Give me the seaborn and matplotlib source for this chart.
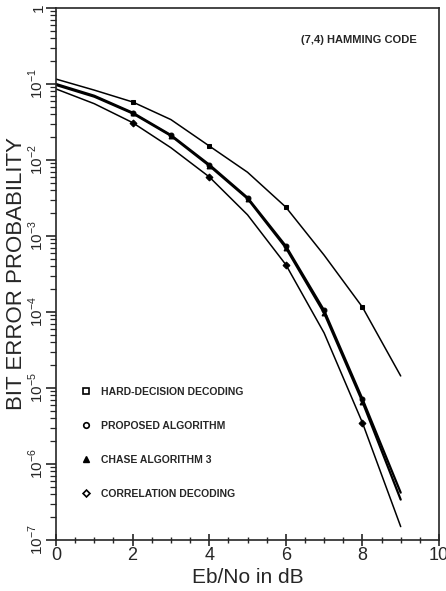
import numpy as np
import pandas as pd
import seaborn as sns
import matplotlib.pyplot as plt
from matplotlib.lines import Line2D
from matplotlib.ticker import LogLocator, MultipleLocator, NullFormatter

ebno = [0, 1, 2, 3, 4, 5, 6, 7, 8, 9]
hard = [0.116, 0.083, 0.058, 0.034, 0.0153, 0.0069, 0.0024, 5.6e-4, 1.16e-4, 1.44e-5]
proposed = [0.100, 0.070, 0.042, 0.0213, 0.0087, 0.0032, 7.4e-4, 1.05e-4, 7.2e-6, 4.2e-7]
chase = [0.097, 0.068, 0.041, 0.0208, 0.0084, 0.0031, 7.0e-4, 9.7e-5, 6.6e-6, 3.4e-7]
corr = [0.086, 0.055, 0.031, 0.0145, 0.0060, 0.0019, 4.2e-4, 5.3e-5, 3.5e-6, 1.5e-7]

names = ['HARD-DECISION DECODING', 'PROPOSED ALGORITHM', 'CHASE ALGORITHM 3', 'CORRELATION DECODING']
ytick_vals = [1e-7, 1e-6, 1e-5, 1e-4, 1e-3, 1e-2, 1e-1, 1]
ytick_text = ['$10^{-7}$', '$10^{-6}$', '$10^{-5}$', '$10^{-4}$', '$10^{-3}$', '$10^{-2}$', '$10^{-1}$', '1']

df = pd.DataFrame({'ebno': ebno, names[0]: hard, names[1]: proposed,
                   names[2]: chase, names[3]: corr})

sns.set_style('ticks')
plt.rcParams['font.family'] = ['Liberation Sans', 'DejaVu Sans']
plt.rcParams['mathtext.fontset'] = 'custom'
plt.rcParams['mathtext.rm'] = 'Liberation Sans'

fig = plt.figure(figsize=(4.46, 5.91), dpi=100)
ax = fig.add_axes([0.1256, 0.0863, 0.8587, 0.9002])

styles = {
    names[0]: dict(lw=1.1, marker='s', every=[2, 4, 6, 8]),
    names[1]: dict(lw=1.6, marker='o', every=[2, 3, 4, 5, 6, 7, 8]),
    names[2]: dict(lw=1.6, marker='^', every=[2, 3, 4, 5, 6, 7, 8]),
    names[3]: dict(lw=1.1, marker='D', every=[2, 4, 6, 8]),
}
for n in names:
    st = styles[n]
    sns.lineplot(data=df, x='ebno', y=n, ax=ax, color='black', lw=st['lw'],
                 marker=st['marker'], markersize=3.5, markevery=st['every'],
                 markeredgecolor='black', markerfacecolor='black')

ax.set_yscale('log')
ax.set_xlim(0, 10)
ax.set_ylim(1e-7, 1)

ax.xaxis.set_major_locator(MultipleLocator(2))
ax.xaxis.set_minor_locator(MultipleLocator(0.5))
ax.tick_params(axis='x', which='major', direction='inout', length=8, width=1.2, labelsize=13, pad=1)
ax.tick_params(axis='x', which='minor', direction='inout', length=5, width=1)

ax.set_yticks(ytick_vals)
ax.set_yticklabels(ytick_text, rotation=90, va='center')
ax.yaxis.set_minor_locator(LogLocator(base=10, subs=np.arange(2, 10)))
ax.yaxis.set_minor_formatter(NullFormatter())
ax.tick_params(axis='y', which='major', direction='out', length=7, width=1.2, labelsize=11, pad=0)
ax.tick_params(axis='y', which='minor', direction='out', length=4, width=0.9)

for s in ax.spines.values():
    s.set_linewidth(1.2)

ax.set_xlabel('Eb/No in dB', fontsize=15, labelpad=3)
ax.set_ylabel('BIT ERROR PROBABILITY', fontsize=16, labelpad=0)

ax.text(0.64, 0.935, '(7,4) HAMMING CODE', transform=ax.transAxes,
        fontsize=8, fontweight='bold')

handles = [
    Line2D([], [], ls='none', marker='s', markersize=4, mfc='white', mec='black', mew=1.2),
    Line2D([], [], ls='none', marker='o', markersize=4, mfc='white', mec='black', mew=1.2),
    Line2D([], [], ls='none', marker='^', markersize=5, mfc='black', mec='black'),
    Line2D([], [], ls='none', marker='D', markersize=3.5, mfc='white', mec='black', mew=1.2),
]
ax.legend(handles, names, loc='lower left', bbox_to_anchor=(0.04, 0.06),
          frameon=False, prop={'size': 7.5, 'weight': 'bold'},
          labelspacing=2.3, handletextpad=0.9, handlelength=1)

fig.savefig('out.png', dpi=100)
